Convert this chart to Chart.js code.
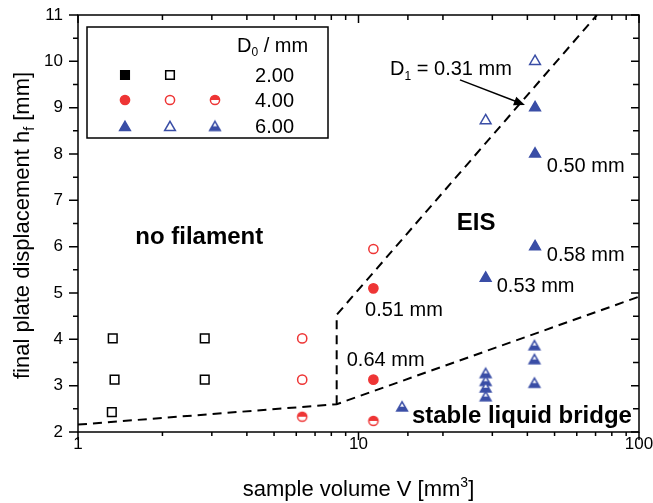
<!DOCTYPE html>
<html><head><meta charset="utf-8">
<script src="https://cdn.jsdelivr.net/npm/chart.js@4.4.0/dist/chart.umd.min.js"></script>
<style>html,body{margin:0;padding:0;background:#fff}#wrap{width:653px;height:503px;position:relative}</style>
</head><body><div id="wrap"><canvas id="c" width="653" height="503"></canvas></div>
<script>
const FONT = '"Liberation Sans", Arial, Helvetica, sans-serif';
const RED = '#ee3535', BLUE = '#3a4ea6';

// ---- data ----
const xTickLabels = [1, 10, 100];
const yTickValues = [2, 3, 4, 5, 6, 7, 8, 9, 10, 11];

// D0 = 2.00 mm (open squares)
const sqOpenX = [1.33, 1.35, 1.32, 2.83, 2.83];
const sqOpenY = [4.02, 3.13, 2.43, 4.02, 3.13];
// D0 = 4.00 mm
const cFillX = [11.3, 11.3];
const cFillY = [5.10, 3.13];
const cOpenX = [6.3, 6.3, 11.3];
const cOpenY = [4.02, 3.13, 5.95];
const cHalfX = [6.3, 11.3];
const cHalfY = [2.33, 2.24];
// D0 = 6.00 mm
const tFillX = [42.6, 42.6, 42.6, 28.4];
const tFillY = [9.0, 8.0, 6.0, 5.32];
const tOpenX = [42.6, 28.4];
const tOpenY = [10.0, 8.72];
const tHalfX = [14.3, 28.4, 28.4, 28.4, 28.4, 42.4, 42.4, 42.4];
const tHalfY = [2.52, 3.24, 3.07, 2.93, 2.74, 3.84, 3.54, 3.03];

// regime boundaries (dashed)
const lowerX = [1, 8.36, 100];
const lowerY = [2.16, 2.60, 4.92];
const upperX = [8.36, 8.36, 70.8];
const upperY = [2.60, 4.53, 11.0];

// legend rows
const legendValues = ['2.00', '4.00', '6.00'];

// annotations
const notes = [
  {t: 'no filament', x: 1.6, y: 6.21, bold: true},
  {t: 'EIS', x: 22.4, y: 6.5, bold: true},
  {t: 'stable liquid bridge', x: 15.5, y: 2.33, bold: true},
  {t: '0.51 mm', x: 10.55, y: 4.63},
  {t: '0.64 mm', x: 9.08, y: 3.55},
  {t: '0.53 mm', x: 31.1, y: 5.14},
  {t: '0.58 mm', x: 46.9, y: 5.82},
  {t: '0.50 mm', x: 46.9, y: 7.73}
];
const d1Label = {x: 35.2, y: 9.85};
const arrowFrom = {x: 23.0, y: 9.6};
const arrowTo = {x: 39.2, y: 9.06};

const pts = (xs, ys) => xs.map((x, i) => ({x, y: ys[i]}));

function halfCircle(color) {
  const c = document.createElement('canvas'); c.width = 14; c.height = 14;
  const g = c.getContext('2d');
  g.fillStyle = '#fff'; g.beginPath(); g.arc(7, 7, 4.6, 0, Math.PI * 2); g.fill();
  g.save(); g.beginPath(); g.rect(0, 0, 14, 7); g.clip();
  g.fillStyle = color; g.beginPath(); g.arc(7, 7, 4.6, 0, Math.PI * 2); g.fill(); g.restore();
  g.strokeStyle = color; g.lineWidth = 1.5; g.beginPath(); g.arc(7, 7, 4.6, 0, Math.PI * 2); g.stroke();
  return c;
}
function triPath(g, cx, cy, r) {
  g.beginPath();
  for (let k = 0; k < 3; k++) {
    const a = k * 2 * Math.PI / 3;
    const px = cx + Math.sin(a) * r, py = cy - Math.cos(a) * r;
    if (k === 0) g.moveTo(px, py); else g.lineTo(px, py);
  }
  g.closePath();
}
function halfTri(color) {
  const c = document.createElement('canvas'); c.width = 18; c.height = 18;
  const g = c.getContext('2d');
  const r = 6.2;
  g.fillStyle = '#fff'; triPath(g, 9, 9, r); g.fill();
  g.save(); g.beginPath(); g.rect(0, 9 - r * 0.2, 18, 18); g.clip();
  g.fillStyle = color; triPath(g, 9, 9, r); g.fill(); g.restore();
  g.strokeStyle = color; g.lineWidth = 1.5; triPath(g, 9, 9, r); g.stroke();
  return c;
}
const hc = halfCircle(RED), ht = halfTri(BLUE);

function dashDs(xs, ys) {
  return {type: 'scatter', data: pts(xs, ys), showLine: true, pointRadius: 0,
    borderColor: '#000', borderWidth: 2, borderDash: [9, 6], fill: false, order: 5, tension: 0};
}
function mk(xs, ys, style, r, fill, stroke) {
  return {data: pts(xs, ys), pointStyle: style, pointRadius: r, pointHoverRadius: r,
    backgroundColor: fill, borderColor: stroke, pointBorderWidth: 1.5, borderWidth: 1.5, showLine: false, order: 1};
}

function drawMarker(ctx, kind, x, y) {
  ctx.save(); ctx.lineWidth = 1.5;
  if (kind === 'sqF' || kind === 'sqO') {
    const s = 4.3;
    ctx.beginPath(); ctx.rect(x - s, y - s, 2 * s, 2 * s);
    ctx.fillStyle = kind === 'sqF' ? '#000' : '#fff'; ctx.fill();
    ctx.strokeStyle = '#000'; ctx.stroke();
  } else if (kind === 'cF' || kind === 'cO') {
    ctx.beginPath(); ctx.arc(x, y, 4.6, 0, Math.PI * 2);
    ctx.fillStyle = kind === 'cF' ? RED : '#fff'; ctx.fill();
    ctx.strokeStyle = RED; ctx.stroke();
  } else if (kind === 'cH') {
    ctx.drawImage(hc, x - 7, y - 7);
  } else if (kind === 'tF' || kind === 'tO') {
    triPath(ctx, x, y + 1.5, 6.2);
    ctx.fillStyle = kind === 'tF' ? BLUE : '#fff'; ctx.fill();
    ctx.strokeStyle = BLUE; ctx.stroke();
  } else if (kind === 'tH') {
    ctx.drawImage(ht, x - 9, y - 9 + 1.5);
  }
  ctx.restore();
}

function subText(ctx, parts, x, y, size, align) {
  const widths = parts.map(p => {
    ctx.font = (p[1] === 'n' ? size : Math.round(size * 0.62)) + 'px ' + FONT;
    return ctx.measureText(p[0]).width;
  });
  const total = widths.reduce((a, b) => a + b, 0);
  let cx = align === 'right' ? x - total : align === 'center' ? x - total / 2 : x;
  ctx.textAlign = 'left'; ctx.textBaseline = 'alphabetic';
  parts.forEach((p, i) => {
    const s = p[1] === 'n' ? size : Math.round(size * 0.62);
    ctx.font = s + 'px ' + FONT;
    const dy = p[1] === 'sub' ? size * 0.22 : p[1] === 'sup' ? -size * 0.42 : 0;
    ctx.fillText(p[0], cx, y + dy);
    cx += widths[i];
  });
  return total;
}

const decor = {
  id: 'decor',
  afterDatasetsDraw(chart) {
    const {ctx, chartArea: a, scales: {x, y}} = chart;
    ctx.save();
    ctx.strokeStyle = '#000'; ctx.lineWidth = 1.5;
    ctx.strokeRect(a.left, a.top, a.right - a.left, a.bottom - a.top);
    ctx.beginPath();
    const yt = y.ticks.map(t => t.value);
    yt.forEach((v, i) => {
      const vals = [v];
      if (i < yt.length - 1) vals.push((v + yt[i + 1]) / 2);
      vals.forEach((vv, j) => {
        const py = y.getPixelForValue(vv);
        ctx.moveTo(a.left, py); ctx.lineTo(a.left - (j === 0 ? 9 : 5), py);
        ctx.moveTo(a.right, py); ctx.lineTo(a.right - (j === 0 ? 8 : 6), py);
      });
    });
    x.ticks.forEach(t => {
      const px = x.getPixelForValue(t.value);
      const major = xTickLabels.includes(t.value);
      ctx.moveTo(px, a.bottom); ctx.lineTo(px, a.bottom + (major ? 8 : 4));
      ctx.moveTo(px, a.top); ctx.lineTo(px, a.top + (major ? 8 : 5));
    });
    ctx.stroke();

    ctx.fillStyle = '#000';
    subText(ctx, [['sample volume V [mm', 'n'], ['3', 'sup'], [']', 'n']], (a.left + a.right) / 2, 496, 22, 'center');
    ctx.save();
    ctx.translate(29, (a.top + a.bottom) / 2 + 2);
    ctx.rotate(-Math.PI / 2);
    subText(ctx, [['final plate displacement h', 'n'], ['f', 'sub'], [' [mm]', 'n']], 0, 0, 22, 'center');
    ctx.restore();

    ctx.textBaseline = 'middle'; ctx.textAlign = 'left';
    notes.forEach(n => {
      ctx.font = (n.bold ? 'bold 24px ' : '20px ') + FONT;
      ctx.fillText(n.t, x.getPixelForValue(n.x), y.getPixelForValue(n.y));
    });
    subText(ctx, [['D', 'n'], ['1', 'sub'], [' = 0.31 mm', 'n']],
      x.getPixelForValue(d1Label.x), y.getPixelForValue(d1Label.y) + 7, 20, 'right');

    const ax0 = x.getPixelForValue(arrowFrom.x), ay0 = y.getPixelForValue(arrowFrom.y);
    const ax1 = x.getPixelForValue(arrowTo.x), ay1 = y.getPixelForValue(arrowTo.y);
    const ang = Math.atan2(ay1 - ay0, ax1 - ax0);
    ctx.lineWidth = 1.5; ctx.beginPath(); ctx.moveTo(ax0, ay0);
    ctx.lineTo(ax1 - 8 * Math.cos(ang), ay1 - 8 * Math.sin(ang)); ctx.stroke();
    ctx.beginPath(); ctx.moveTo(ax1, ay1);
    ctx.lineTo(ax1 - 11 * Math.cos(ang) + 4.5 * Math.sin(ang), ay1 - 11 * Math.sin(ang) - 4.5 * Math.cos(ang));
    ctx.lineTo(ax1 - 11 * Math.cos(ang) - 4.5 * Math.sin(ang), ay1 - 11 * Math.sin(ang) + 4.5 * Math.cos(ang));
    ctx.closePath(); ctx.fill();

    const L = {x: 87, y: 27, w: 241, h: 111};
    ctx.fillStyle = '#fff'; ctx.fillRect(L.x, L.y, L.w, L.h);
    ctx.strokeStyle = '#000'; ctx.lineWidth = 1.5; ctx.strokeRect(L.x, L.y, L.w, L.h);
    ctx.fillStyle = '#000';
    subText(ctx, [['D', 'n'], ['0', 'sub'], [' / mm', 'n']], 237, 52, 20, 'left');
    const rows = [['sqF', 'sqO', null], ['cF', 'cO', 'cH'], ['tF', 'tO', 'tH']];
    const rowY = [75, 100, 126], colX = [125, 170, 215];
    rows.forEach((r, i) => {
      r.forEach((k, j) => { if (k) drawMarker(ctx, k, colX[j], rowY[i]); });
      ctx.fillStyle = '#000'; ctx.font = '20px ' + FONT; ctx.textAlign = 'right'; ctx.textBaseline = 'middle';
      ctx.fillText(legendValues[i], 294, rowY[i] + 1);
    });
    ctx.restore();
  }
};

new Chart(document.getElementById('c'), {
  type: 'scatter',
  data: {
    datasets: [
      dashDs(lowerX, lowerY),
      dashDs(upperX, upperY),
      mk(sqOpenX, sqOpenY, 'rect', 6.1, '#fff', '#000'),
      mk(cOpenX, cOpenY, 'circle', 4.6, '#fff', RED),
      mk(cFillX, cFillY, 'circle', 4.6, RED, RED),
      mk(cHalfX, cHalfY, hc, 7, RED, RED),
      mk(tOpenX, tOpenY, 'triangle', 6.2, '#fff', BLUE),
      mk(tFillX, tFillY, 'triangle', 6.2, BLUE, BLUE),
      mk(tHalfX, tHalfY, ht, 9, BLUE, BLUE)
    ]
  },
  options: {
    responsive: false, animation: false, devicePixelRatio: 1,
    layout: {padding: {left: 0, right: 14, top: 15, bottom: 0}},
    plugins: {legend: {display: false}, tooltip: {enabled: false}},
    events: [],
    scales: {
      x: {
        type: 'logarithmic', min: 1, max: 100,
        grid: {display: false, drawTicks: false}, border: {display: false},
        ticks: {autoSkip: false, maxRotation: 0, padding: 2, color: '#000',
          font: {family: FONT, size: 17},
          callback: v => xTickLabels.includes(v) ? String(v) : ''},
        afterFit: s => { s.height = 71; s.paddingLeft = 0; s.paddingRight = 0; }
      },
      y: {
        type: 'linear', min: 2, max: 11,
        grid: {display: false, drawTicks: false}, border: {display: false},
        ticks: {stepSize: 1, padding: 15, color: '#000', font: {family: FONT, size: 17},
          callback: v => yTickValues.includes(v) ? String(v) : ''},
        afterFit: s => { s.width = 78; s.paddingTop = 0; s.paddingBottom = 0; }
      }
    }
  },
  plugins: [decor]
});
</script></body></html>
